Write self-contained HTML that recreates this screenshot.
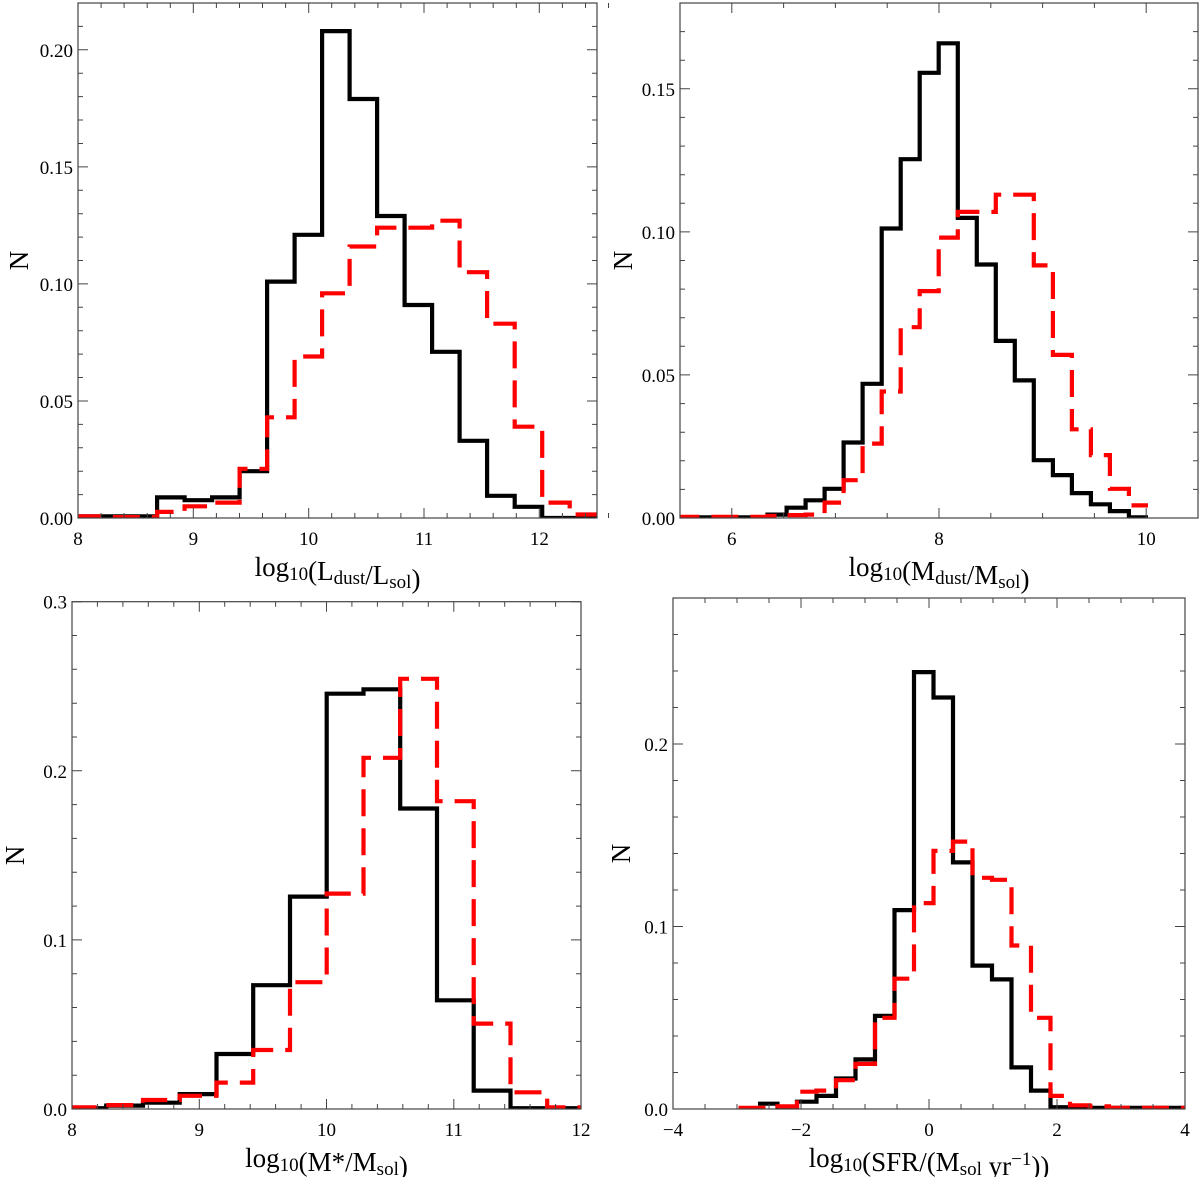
<!DOCTYPE html>
<html><head><meta charset="utf-8">
<style>
html,body{margin:0;padding:0;background:#fff;}
svg{display:block;}
text{font-family:"Liberation Serif",serif;fill:#000;}
</style></head>
<body>
<svg id="fig" width="1200" height="1177" viewBox="0 0 1200 1177" xmlns="http://www.w3.org/2000/svg"></svg>
<script>
// ---- Panel A: dust luminosity ----
const ldustStart = 7.97;
const ldustWidth = 0.2385;
const ldustBlack = [0.0007,0.0007,0.0007,0.0088,0.0076,0.0088,0.020,0.101,0.121,0.208,0.179,0.129,0.091,0.071,0.033,0.0095,0.0048,0,0];
const ldustRed = [0.0007,0.0004,0.0004,0.0026,0.005,0.0066,0.021,0.043,0.069,0.096,0.116,0.124,0.124,0.127,0.105,0.083,0.039,0.0066,0.0015];
const ldustXTicks = ["8","9","10","11","12"];
const ldustYTicks = ["0.00","0.05","0.10","0.15","0.20"];
// ---- Panel B: dust mass ----
const mdustStart = 5.427;
const mdustWidth = 0.1836;
const mdustBlack = [0.0002,0.0002,0.0002,0.0002,0.0002,0.0012,0.0036,0.0062,0.0102,0.0264,0.0469,0.1012,0.1254,0.1556,0.1659,0.1049,0.0886,0.0619,0.0481,0.0202,0.015,0.0087,0.0048,0.0024,0.0002];
const mdustRed = [0.0004,0.0004,0.0004,0.0004,0.0004,0.0007,0.001,0.0012,0.0054,0.0132,0.026,0.0442,0.0667,0.0793,0.098,0.107,0.107,0.113,0.113,0.0883,0.057,0.031,0.022,0.0102,0.0044];
const mdustXTicks = ["6","8","10"];
const mdustYTicks = ["0.00","0.05","0.10","0.15"];
// ---- Panel C: stellar mass ----
const mstarStart = 7.98;
const mstarWidth = 0.2888;
const mstarBlack = [0.0005,0.002,0.0037,0.0088,0.0325,0.0732,0.1256,0.2456,0.2482,0.1777,0.0643,0.0109,0.0005,0.0005];
const mstarRed = [0.001,0.0023,0.0053,0.0078,0.0156,0.0349,0.075,0.1274,0.2077,0.2544,0.182,0.0505,0.0099,0.001];
const mstarXTicks = ["8","9","10","11","12"];
const mstarYTicks = ["0.0","0.1","0.2","0.3"];
// ---- Panel D: SFR ----
const sfrStart = -2.977;
const sfrWidth = 0.3047;
const sfrBlack = [null,0.0029,0.0006,0.004,0.0072,0.0167,0.0272,0.051,0.109,0.2394,0.2255,0.1351,0.0786,0.071,0.0228,0.0101,0.001,0.0006,0.0006,0.0006,0.0006,0.0006,0.0006,0.0006];
const sfrRed = [0.0006,0.0006,0.0015,0.0095,0.0101,0.0158,0.0247,0.050,0.0714,0.1128,0.1414,0.1465,0.1267,0.1256,0.0896,0.050,0.0072,0.002,0.0015,0.0006,0.0006,0.0006,0.0006];
const sfrXTicks = ["−4","−2","0","2","4"];
const sfrYTicks = ["0.0","0.1","0.2"];

const NS = "http://www.w3.org/2000/svg";
const fig = document.getElementById('fig');
function mk(tag, attrs, parent){
  const e = document.createElementNS(NS, tag);
  for (const k in attrs) e.setAttribute(k, attrs[k]);
  (parent||fig).appendChild(e);
  return e;
}

function panel(cfg){
  const g = mk('g', {});
  
  
  const X = v => cfg.px0 + (v - cfg.x0) / (cfg.x1 - cfg.x0) * (cfg.px1 - cfg.px0);
  const Y = v => cfg.py0 - (v - cfg.y0) / (cfg.y1 - cfg.y0) * (cfg.py0 - cfg.py1);
  const cid = 'clip-' + cfg.name;
  const defs = mk('defs', {}, g);
  const cp = mk('clipPath', {id: cid}, defs);
  mk('rect', {x: cfg.px0, y: cfg.py1, width: cfg.px1 - cfg.px0, height: cfg.py0 - cfg.py1}, cp);

  function hist(vals, start, width, style, nm){
    let d = '';
    let pen = false;
    for (let i = 0; i < vals.length; i++){
      const v = vals[i];
      if (v === null){ pen = false; continue; }
      const xa = X(start + i * width), xb = X(start + (i + 1) * width), y = Y(v);
      d += (pen ? 'L' : 'M') + xa.toFixed(1) + ' ' + y.toFixed(1) + 'L' + xb.toFixed(1) + ' ' + y.toFixed(1);
      pen = true;
    }
    const p = mk('path', Object.assign({d: d, fill: 'none', 'clip-path': 'url(#' + cid + ')', 'stroke-linejoin': 'miter'}, style), g);
    
    
  }
  hist(cfg.black, cfg.start, cfg.width, {stroke: '#000', 'stroke-width': 4.2}, cfg.name + '-black-histogram');
  hist(cfg.red, cfg.start, cfg.width, {stroke: '#ff0000', 'stroke-width': 4.2, 'stroke-dasharray': '27 12'}, cfg.name + '-red-histogram');

  const fr = mk('rect', {x: cfg.px0, y: cfg.py1, width: cfg.px1 - cfg.px0, height: cfg.py0 - cfg.py1, fill: 'none', stroke: '#444', 'stroke-width': 1.2}, g);
  
  

  let td = '';
  const nx = Math.round((cfg.x1 - cfg.x0) / cfg.xMinor);
  for (let i = 0; i <= nx; i++){
    const v = cfg.x0 + i * cfg.xMinor;
    const major = Math.abs(v / cfg.xMajor - Math.round(v / cfg.xMajor)) < 1e-6;
    const L = major ? 10 : 5, x = X(v).toFixed(1);
    td += `M${x} ${cfg.py0}v${-L}M${x} ${cfg.py1}v${L}`;
  }
  const ny = Math.round((cfg.y1 - cfg.y0) / cfg.yMinor);
  for (let i = 0; i <= ny; i++){
    const v = cfg.y0 + i * cfg.yMinor;
    const major = Math.abs(v / cfg.yMajor - Math.round(v / cfg.yMajor)) < 1e-6;
    const L = major ? 10 : 5, y = Y(v).toFixed(1);
    td += `M${cfg.px0} ${y}h${L}M${cfg.px1} ${y}h${-L}`;
  }
  const tp = mk('path', {d: td, stroke: '#444', 'stroke-width': 1, fill: 'none'}, g);
  
  

  cfg.xTicks.forEach((lab, i) => {
    const v = cfg.xTickStart + i * cfg.xMajor;
    const t = mk('text', {x: X(v), y: cfg.py0 + 27, 'font-size': 19, 'text-anchor': 'middle'}, g);
    t.textContent = lab;
    
    
  });
  cfg.yTicks.forEach((lab, i) => {
    const v = cfg.y0 + i * cfg.yMajor;
    const t = mk('text', {x: cfg.px0 - 5, y: Y(v) + 7, 'font-size': 19, 'text-anchor': 'end'}, g);
    t.textContent = lab;
    
    
  });
  const yt = mk('text', {x: 0, y: 0, 'font-size': 27, 'text-anchor': 'middle', transform: `translate(${cfg.yTitleX},${(cfg.py0 + cfg.py1) / 2}) rotate(-90)`}, g);
  yt.textContent = 'N';
  
  
  const xt = mk('text', {x: (cfg.px0 + cfg.px1) / 2, y: cfg.py0 + 58, 'font-size': 27, 'text-anchor': 'middle'}, g);
  xt.innerHTML = cfg.title;
  
  
}

const sub = s => `<tspan font-size="19" dy="4">${s}</tspan><tspan dy="-4"></tspan>`;

panel({name:'ldust-panel', px0:78, px1:597, py0:518, py1:3, x0:8, x1:12.5, y0:0, y1:0.22,
  xMinor:0.2, xMajor:1, xTickStart:8, yMinor:0.01, yMajor:0.05,
  start:ldustStart, width:ldustWidth, black:ldustBlack, red:ldustRed,
  xTicks:ldustXTicks, yTicks:ldustYTicks, yTitleX:28,
  title:'log'+sub('10')+'(L'+sub('dust')+'/L'+sub('sol')+')'});
panel({name:'mdust-panel', px0:680, px1:1198, py0:518, py1:3, x0:5.5, x1:10.5, y0:0, y1:0.18,
  xMinor:0.5, xMajor:2, xTickStart:6, yMinor:0.01, yMajor:0.05,
  start:mdustStart, width:mdustWidth, black:mdustBlack, red:mdustRed,
  xTicks:mdustXTicks, yTicks:mdustYTicks, yTitleX:632,
  title:'log'+sub('10')+'(M'+sub('dust')+'/M'+sub('sol')+')'});
panel({name:'mstar-panel', px0:72, px1:581, py0:1109, py1:601.7, x0:8, x1:12, y0:0, y1:0.3,
  xMinor:0.2, xMajor:1, xTickStart:8, yMinor:0.02, yMajor:0.1,
  start:mstarStart, width:mstarWidth, black:mstarBlack, red:mstarRed,
  xTicks:mstarXTicks, yTicks:mstarYTicks, yTitleX:24,
  title:'log'+sub('10')+'(M*/M'+sub('sol')+')'});
panel({name:'sfr-panel', px0:673, px1:1185, py0:1109, py1:598, x0:-4, x1:4, y0:0, y1:0.28,
  xMinor:0.5, xMajor:2, xTickStart:-4, yMinor:0.02, yMajor:0.1,
  start:sfrStart, width:sfrWidth, black:sfrBlack, red:sfrRed,
  xTicks:sfrXTicks, yTicks:sfrYTicks, yTitleX:630,
  title:'log'+sub('10')+'(SFR/(M'+sub('sol')+' yr<tspan font-size="19" dy="-10">−1</tspan><tspan dy="10">))</tspan>'});
</script>
</body></html>
